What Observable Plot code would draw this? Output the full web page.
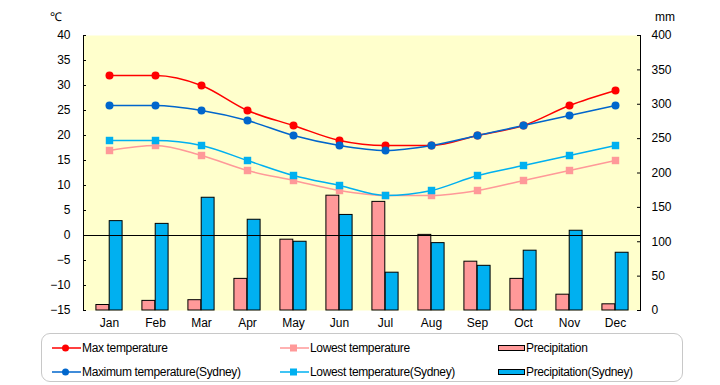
<!DOCTYPE html>
<html>
<head>
<meta charset="utf-8">
<script src="https://cdn.jsdelivr.net/npm/d3@7"></script>
<script src="https://cdn.jsdelivr.net/npm/@observablehq/plot@0.6"></script>
<style>
  html, body { margin: 0; padding: 0; background: #fff; }
  #wrap { position: relative; width: 720px; height: 385px; font-family: "Liberation Sans", Arial, sans-serif; font-size: 12px; color: #000; }
  .unit { position: absolute; font-size: 12px; line-height: 12px; }
  #legend { position: absolute; left: 41px; top: 333px; width: 642px; height: 49px; border: 1.5px solid #c8c8c8; border-radius: 9px; box-sizing: border-box; }
  .item { position: absolute; height: 16px; display: flex; align-items: center; white-space: nowrap; font-size: 12px; letter-spacing: -0.35px; }
  .item svg { display: block; margin-right: 1px; }
</style>
</head>
<body>
<div id="wrap">
  <div id="chart"></div>
  <div class="unit" style="left:50px; top:11px;">℃</div>
  <div class="unit" style="left:655px; top:11px;">mm</div>
  <div id="legend"></div>
</div>
<script>
const months = ["Jan","Feb","Mar","Apr","May","Jun","Jul","Aug","Sep","Oct","Nov","Dec"];
const maxTemp = [32,32,30,25,22,19,18,18,20,22,26,29];
const lowTemp = [17,18,16,13,11,9,8,8,9,11,13,15];
const maxTempSydney = [26,26,25,23,20,18,17,18,20,22,24,26];
const lowTempSydney = [19,19,18,15,12,10,8,9,12,14,16,18];
const precip = [8,14,15,46,103,167,158,110,71,46,23,9];
const precipSydney = [130,126,164,132,100,139,55,98,65,87,116,84];
const tempTicks = [-15,-10,-5,0,5,10,15,20,25,30,35,40];
const mmTicks = [0,50,100,150,200,250,300,350,400];

const tMin = -15, tMax = 40, mmMax = 400;
const toT = mm => tMin + mm * (tMax - tMin) / mmMax;

const rows = months.map((m, i) => ({
  month: m,
  maxTemp: maxTemp[i], lowTemp: lowTemp[i],
  maxTempSydney: maxTempSydney[i], lowTempSydney: lowTempSydney[i],
  precip: precip[i], precipSydney: precipSydney[i]
}));

const W = 720, H = 330, mL = 83, mR = 80, mT = 35, mB = 20;
const innerW = W - mL - mR;
const bw = innerW / months.length;
const barW = 13.3;
const outer = bw / 2 - barW;

const colors = {
  max: "#FF0000", low: "#FF9999", maxS: "#0066CC", lowS: "#00B0F0",
  bar: "#FF9999", barS: "#00B0F0", bg: "#FFFFCC"
};
const curve = "monotone-x";

const chart = Plot.plot({
  width: W, height: H,
  marginLeft: mL, marginRight: mR, marginTop: mT, marginBottom: mB,
  style: { fontFamily: "Liberation Sans, Arial, sans-serif", fontSize: "12px", background: "transparent" },
  x: { type: "band", domain: months, padding: 0, label: null },
  y: { domain: [tMin, tMax], label: null },
  marks: [
    Plot.frame({ fill: colors.bg, stroke: null }),
    Plot.barY(rows, { x: "month", y1: () => tMin, y2: d => toT(d.precip), fill: colors.bar, stroke: "#000", strokeWidth: 1, insetLeft: outer, insetRight: bw / 2 }),
    Plot.barY(rows, { x: "month", y1: () => tMin, y2: d => toT(d.precipSydney), fill: colors.barS, stroke: "#000", strokeWidth: 1, insetLeft: bw / 2, insetRight: outer }),
    Plot.ruleY([0], { stroke: "#000", strokeWidth: 1 }),
    Plot.line(rows, { x: "month", y: "lowTemp", stroke: colors.low, strokeWidth: 1.5, curve }),
    Plot.line(rows, { x: "month", y: "lowTempSydney", stroke: colors.lowS, strokeWidth: 1.5, curve }),
    Plot.line(rows, { x: "month", y: "maxTemp", stroke: colors.max, strokeWidth: 1.5, curve }),
    Plot.line(rows, { x: "month", y: "maxTempSydney", stroke: colors.maxS, strokeWidth: 1.5, curve }),
    Plot.dot(rows, { x: "month", y: "lowTemp", symbol: "square", r: 4.2, fill: colors.low, stroke: null }),
    Plot.dot(rows, { x: "month", y: "lowTempSydney", symbol: "square", r: 4.2, fill: colors.lowS, stroke: null }),
    Plot.dot(rows, { x: "month", y: "maxTemp", r: 4, fill: colors.max, stroke: null }),
    Plot.dot(rows, { x: "month", y: "maxTempSydney", r: 4, fill: colors.maxS, stroke: null }),
    Plot.frame({ anchor: "left", stroke: "#000" }),
    Plot.frame({ anchor: "right", stroke: "#000" }),
    Plot.ruleY(tempTicks, { y: d => d, insetRight: innerW - 3, stroke: "#000" }),
    Plot.ruleY(mmTicks.map(toT), { y: d => d, insetLeft: innerW - 3, stroke: "#000" }),
    Plot.axisY(tempTicks, { anchor: "left", tickSize: 0, tickPadding: 13, label: null }),
    Plot.axisY(mmTicks.map(toT), { anchor: "right", tickSize: 0, tickPadding: 11, label: null,
      tickFormat: t => String(Math.round((t - tMin) * mmMax / (tMax - tMin))) }),
    Plot.axisX({ anchor: "bottom", tickSize: 0, tickPadding: 8, label: null })
  ]
});
document.getElementById("chart").appendChild(chart);

// Legend
const legendItems = [
  { label: "Max temperature", kind: "circle", color: colors.max, left: 10, top: 6 },
  { label: "Lowest temperature", kind: "square", color: colors.low, left: 238, top: 6 },
  { label: "Precipitation", kind: "bar", color: colors.bar, left: 456, top: 6 },
  { label: "Maximum temperature(Sydney)", kind: "circle", color: colors.maxS, left: 10, top: 30 },
  { label: "Lowest temperature(Sydney)", kind: "square", color: colors.lowS, left: 238, top: 30 },
  { label: "Precipitation(Sydney)", kind: "bar", color: colors.barS, left: 456, top: 30 }
];
const legend = d3.select("#legend");
for (const it of legendItems) {
  const div = legend.append("div").attr("class", "item").style("left", it.left + "px").style("top", it.top + "px");
  const svg = div.append("svg").attr("width", it.kind === "bar" ? 27 : 29).attr("height", 16);
  if (it.kind === "bar") {
    svg.append("rect").attr("x", 0.5).attr("y", 5.5).attr("width", 26).attr("height", 5).attr("fill", it.color).attr("stroke", "#000").attr("stroke-width", 1);
  } else {
    svg.append("line").attr("x1", 0).attr("x2", 29).attr("y1", 8).attr("y2", 8).attr("stroke", it.color).attr("stroke-width", 1.5);
    if (it.kind === "circle") svg.append("circle").attr("cx", 13.5).attr("cy", 8).attr("r", 3.5).attr("fill", it.color);
    else svg.append("rect").attr("x", 10).attr("y", 4.5).attr("width", 7).attr("height", 7).attr("fill", it.color);
  }
  div.append("span").text(it.label);
}
</script>
</body>
</html>
